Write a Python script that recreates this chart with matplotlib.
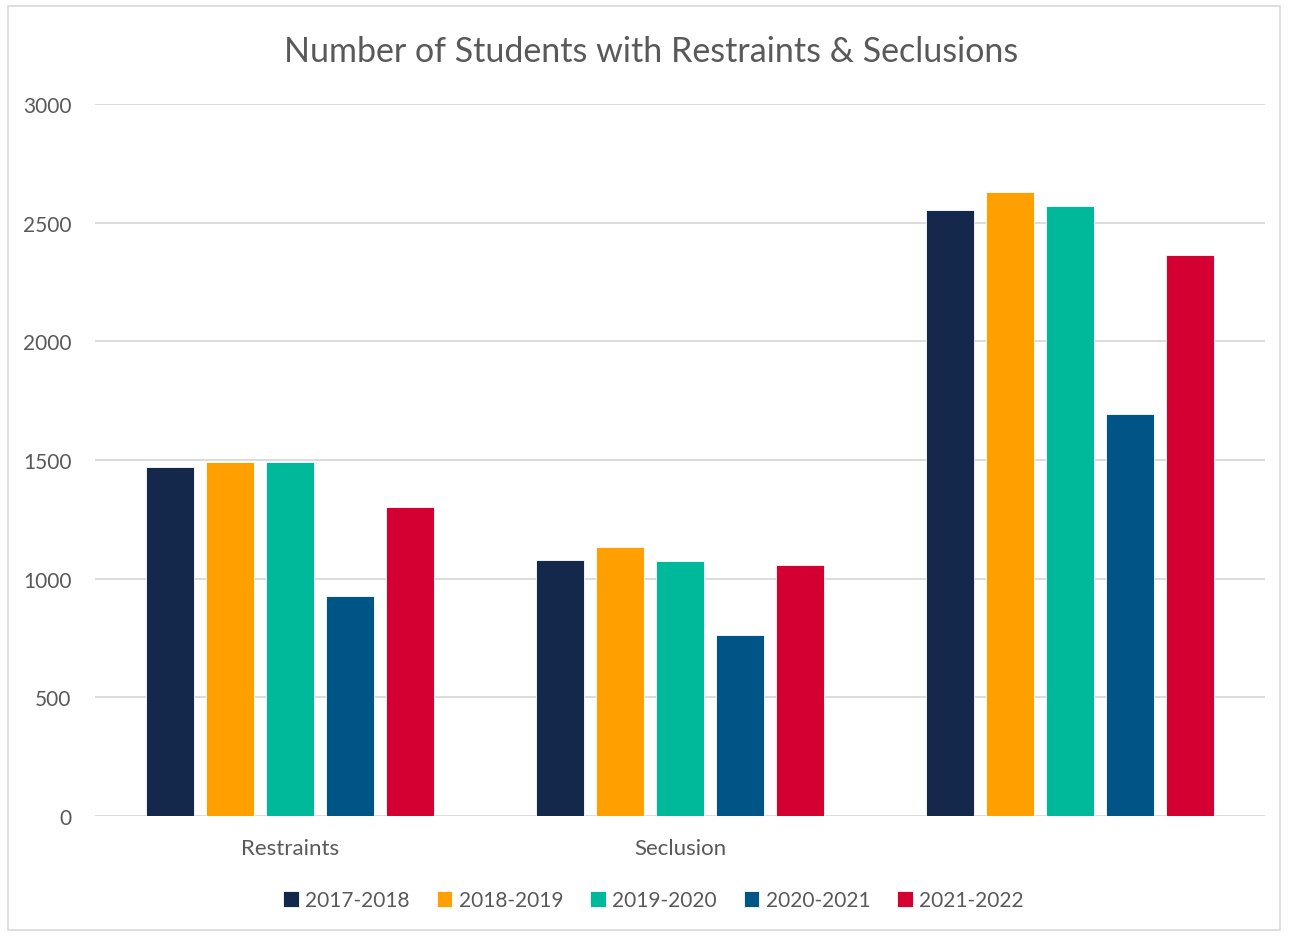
import numpy as np
import matplotlib
matplotlib.use('Agg')
import matplotlib.pyplot as plt
from matplotlib.patches import Rectangle

plt.rcParams['font.family'] = ['Lato', 'DejaVu Sans']

categories = ['Restraints', 'Seclusion', '']
years = ['2017-2018', '2018-2019', '2019-2020', '2020-2021', '2021-2022']
values = {
    '2017-2018': [1470, 1078, 2555],
    '2018-2019': [1492, 1135, 2630],
    '2019-2020': [1492, 1075, 2572],
    '2020-2021': [928, 763, 1695],
    '2021-2022': [1302, 1058, 2362],
}
colors = ['#14284B', '#FFA000', '#00B89A', '#005587', '#D50032']
yticks = [0, 500, 1000, 1500, 2000, 2500, 3000]

text_col = '#595959'

fig = plt.figure(figsize=(12.94, 9.37), dpi=100)
ax = fig.add_axes([0.0734, 0.1281, 0.9042, 0.7598])

x = np.arange(len(categories))
step = 0.1538
width = 0.123
for i, yr in enumerate(years):
    ax.bar(x + (i - 2) * step, values[yr], width, color=colors[i],
           edgecolor='white', linewidth=0.6, label=yr, zorder=3)

ax.set_xlim(-0.5, 2.5)
ax.set_ylim(0, 3000)
ax.set_yticks(yticks)
ax.set_yticklabels([str(t) for t in yticks], fontsize=15, color=text_col)
ax.set_xticks(x)
ax.set_xticklabels(categories, fontsize=16, color=text_col)
ax.tick_params(axis='y', length=0, pad=17)
ax.tick_params(axis='x', length=0, pad=16)
ax.grid(axis='y', color='#d9d9d9', linewidth=1.3, zorder=0)
for s in ax.spines.values():
    s.set_visible(False)

fig.text(0.503, 0.945, 'Number of Students with Restraints & Seclusions',
         ha='center', va='center', fontsize=24.5, color=text_col)

leg = fig.legend(loc='center', bbox_to_anchor=(0.505, 0.038), ncol=5,
                 frameon=False, fontsize=15, handlelength=0.75, handleheight=0.75,
                 handletextpad=0.3, columnspacing=1.3)
for t in leg.get_texts():
    t.set_color(text_col)

fig.patches.append(Rectangle((0.006, 0.006), 0.983, 0.986, transform=fig.transFigure,
                             fill=False, edgecolor='#d9d9d9', linewidth=1.2))

fig.savefig('out.png', dpi=100)
